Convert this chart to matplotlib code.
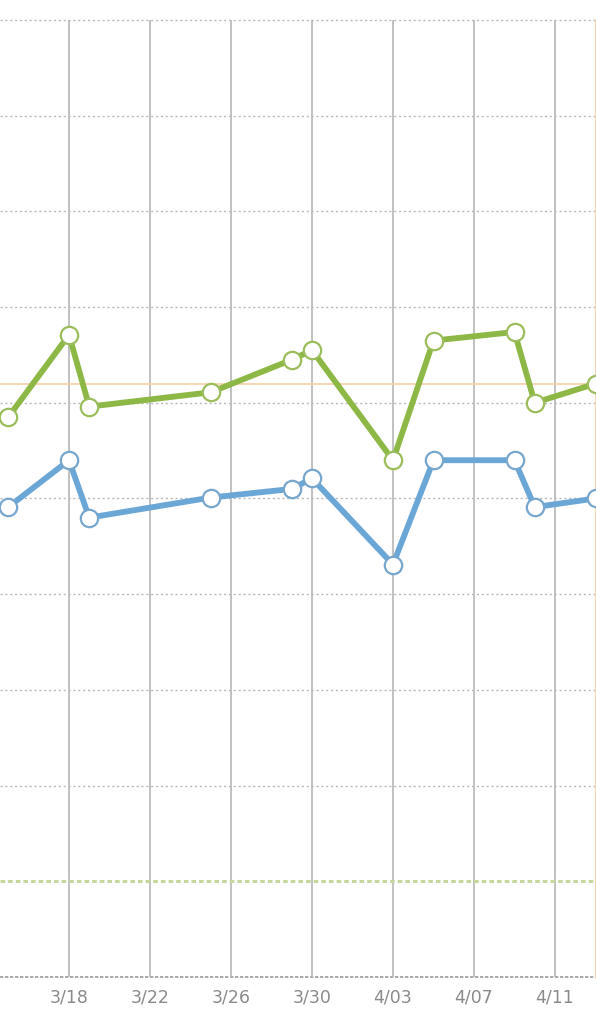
import numpy as np
import matplotlib.pyplot as plt
import matplotlib.dates as mdates

# readings
dates = np.array(["2020-03-15", "2020-03-18", "2020-03-19", "2020-03-25",
                  "2020-03-29", "2020-03-30", "2020-04-03", "2020-04-05",
                  "2020-04-09", "2020-04-10", "2020-04-13"], dtype="datetime64[D]")
upper = [98.5, 107.1, 99.6, 101.1, 104.5, 105.5, 94.0, 106.5, 107.4, 100.0, 102.0]
lower = [89.1, 94.0, 88.0, 90.1, 91.0, 92.1, 83.1, 94.0, 94.0, 89.1, 90.0]

tick_dates = np.array(["2020-03-18", "2020-03-22", "2020-03-26", "2020-03-30",
                       "2020-04-03", "2020-04-07", "2020-04-11"], dtype="datetime64[D]")
tick_labels = ["3/18", "3/22", "3/26", "3/30", "4/03", "4/07", "4/11"]
y_ticks = [40, 50, 60, 70, 80, 90, 100, 110, 120, 130, 140]

target_line = 102
floor_line = 50
today = np.datetime64("2020-04-13")

fig = plt.figure(figsize=(5.96, 10.24), dpi=100)
ax = fig.add_axes([0, 47 / 1024, 1, 957 / 1024])

x0 = mdates.date2num(np.datetime64("2020-03-18"))
ax.set_xlim(x0 - 69 / 20.25, x0 + 527 / 20.25)
ax.set_ylim(40, 140)

for s in ax.spines.values():
    s.set_visible(False)

# grid
for y in y_ticks[1:]:
    if y == floor_line:
        continue
    ax.axhline(y, color="#b8b8b8", lw=1.0, ls=(0, (1.5, 2)), zorder=1, clip_on=False)
ax.axhline(40, color="#9a9a9a", lw=1.2, ls=(0, (2, 1)), zorder=1, clip_on=False)
for d in tick_dates:
    ax.axvline(mdates.date2num(d), color="#bcbcbc", lw=1.3, zorder=1)

# reference lines
ax.axhline(floor_line, color="#c5d79c", lw=2.2, ls=(0, (1.5, 1)), zorder=2)
ax.axhline(target_line, color="#f6cfa6", lw=1.2, zorder=2)
ax.axvline(mdates.date2num(today), color="#f6cfa6", lw=2, zorder=2, clip_on=False)

# series
ax.plot(dates, upper, color="#8db846", lw=4.2, marker="o", ms=12.5,
        mfc="white", mec="#9cbd5c", mew=1.6, zorder=4, clip_on=False)
ax.plot(dates, lower, color="#6ba7d6", lw=4.2, marker="o", ms=12.5,
        mfc="white", mec="#77a6cf", mew=1.6, zorder=4, clip_on=False)

ax.set_yticks([])
ax.set_xticks(mdates.date2num(tick_dates))
ax.set_xticklabels(tick_labels, color="#8a8a8a", fontsize=12.5)
ax.tick_params(axis="x", length=0, pad=8)

fig.savefig("out.png", dpi=100)
